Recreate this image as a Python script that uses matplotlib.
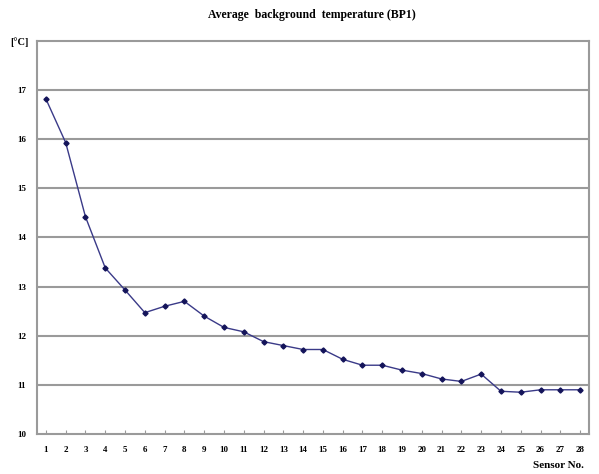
import matplotlib
matplotlib.use("Agg")
import matplotlib.pyplot as plt

sensors = list(range(1, 29))
temps = [16.82, 15.93, 14.42, 13.38, 12.93, 12.47, 12.6, 12.7, 12.4, 12.17,
         12.08, 11.88, 11.8, 11.72, 11.72, 11.52, 11.4, 11.4, 11.3, 11.23,
         11.12, 11.07, 11.22, 10.87, 10.85, 10.9, 10.9, 10.9]
yticks = [10, 11, 12, 13, 14, 15, 16, 17]

fig = plt.figure(figsize=(5.99, 4.74), dpi=100)
ax = fig.add_axes([0.0618, 0.0844, 0.9215, 0.8291])

serif = "Liberation Serif"
ax.plot(sensors, temps, color="#3a3a88", lw=1.0, marker="D", ms=2.6,
        mfc="#14145a", mec="#14145a", zorder=3)

ax.set_xlim(0.55, 28.45)
ax.set_ylim(10, 18)
ax.set_yticks(yticks)
ax.set_yticklabels([str(v) for v in yticks], fontsize=6.5, family=serif,
                   fontweight="bold")
ax.set_xticks(sensors)
ax.set_xticklabels([str(s) for s in sensors], fontsize=6.5, family=serif,
                   fontweight="bold")
ax.tick_params(axis="x", direction="in", length=3, color="#999999", pad=9)
ax.tick_params(axis="y", length=0, pad=8)

for v in yticks[1:]:
    ax.axhline(v, color="#9a9a9a", lw=1.5, zorder=1)
for sp in ax.spines.values():
    sp.set_color("#9a9a9a")
    sp.set_linewidth(1.5)

fig.text(0.52, 0.968, "Average  background  temperature (BP1)", ha="center",
         va="center", fontsize=8.5, fontweight="bold", family=serif)
fig.text(0.033, 0.912, "[°C]", ha="center", va="center", fontsize=7.5,
         fontweight="bold", family=serif)
fig.text(0.975, 0.017, "Sensor No.", ha="right", va="center", fontsize=8,
         fontweight="bold", family=serif)

fig.savefig("out.png", dpi=100)
